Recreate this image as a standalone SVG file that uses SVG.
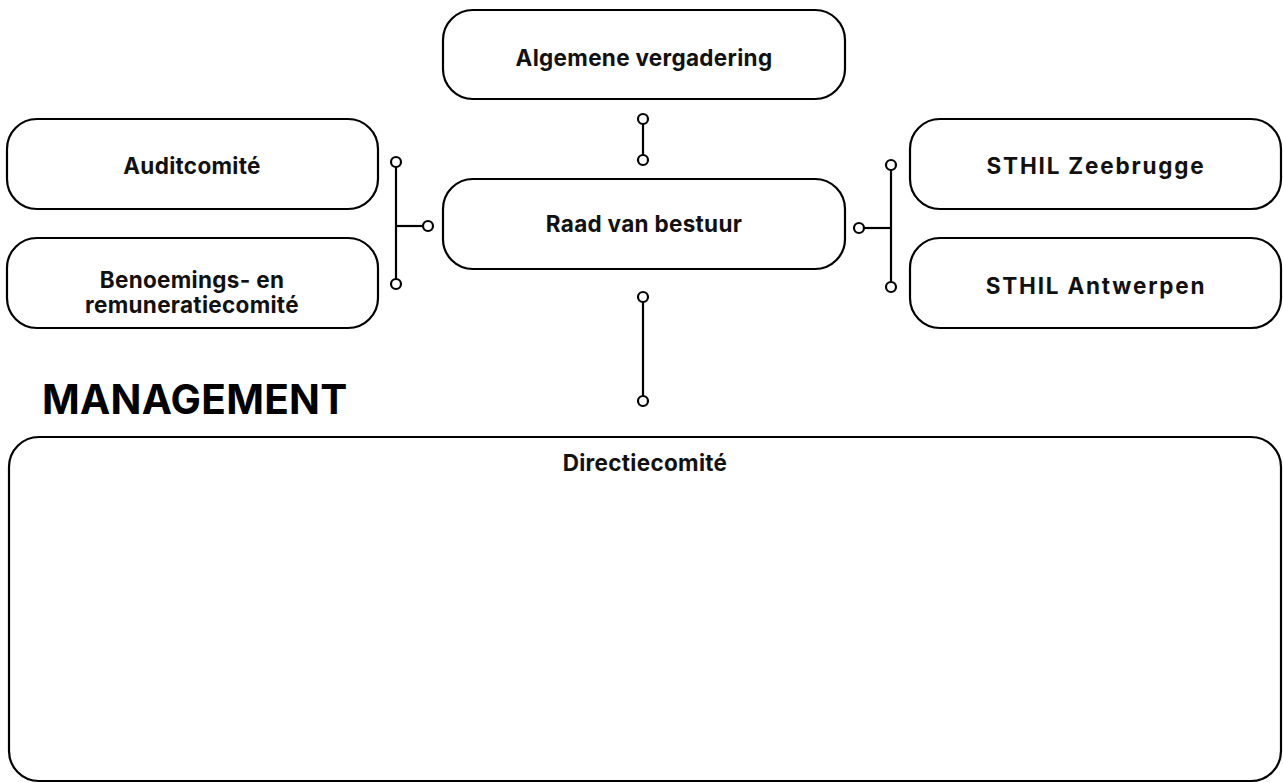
<svg xmlns="http://www.w3.org/2000/svg" width="1283" height="783" viewBox="0 0 1283 783">
<style>
.box{fill:#fff;stroke:#000;stroke-width:2.2}
.lbl{font-family:Inter,"Liberation Sans",sans-serif;font-weight:700;font-size:22.5px;letter-spacing:0.3px;fill:#111;text-anchor:middle}
.sp{letter-spacing:1.8px}
.ln{stroke:#000;stroke-width:2.2;fill:none}
.dot{fill:#fff;stroke:#000;stroke-width:2.2}
.title{font-family:Inter,"Liberation Sans",sans-serif;font-weight:700;font-size:40.5px;letter-spacing:0.3px;fill:#000}
</style>
<rect width="1283" height="783" fill="#fff"/>
<g id="algemene-vergadering"><rect class="box" x="443" y="10" width="402" height="89" rx="30"/><text class="lbl" x="644" y="66">Algemene vergadering</text></g>
<g id="raad-van-bestuur"><rect class="box" x="443" y="179" width="402" height="90" rx="30"/><text class="lbl" x="644" y="232">Raad van bestuur</text></g>
<g id="auditcomite"><rect class="box" x="7" y="119" width="371" height="90" rx="30"/><text class="lbl" x="192" y="174">Auditcomité</text></g>
<g id="benoemings"><rect class="box" x="7" y="238" width="371" height="90" rx="30"/><text class="lbl" x="192" y="288">Benoemings- en</text><text class="lbl" x="192" y="313">remuneratiecomité</text></g>
<g id="sthil-zeebrugge"><rect class="box" x="910" y="119" width="371" height="90" rx="30"/><text class="lbl sp" x="1096" y="174">STHIL Zeebrugge</text></g>
<g id="sthil-antwerpen"><rect class="box" x="910" y="238" width="371" height="90" rx="30"/><text class="lbl sp" x="1096" y="294">STHIL Antwerpen</text></g>
<text class="title" x="42" y="414">MANAGEMENT</text>
<g id="directiecomite"><rect class="box" x="9" y="437" width="1272" height="344" rx="30"/><text class="lbl" x="645" y="471">Directiecomité</text></g>
<g id="connectors">
<line class="ln" x1="643" y1="119" x2="643" y2="160"/>
<circle class="dot" cx="643" cy="119" r="5"/><circle class="dot" cx="643" cy="160" r="5"/>
<line class="ln" x1="643" y1="297" x2="643" y2="401"/>
<circle class="dot" cx="643" cy="297" r="5"/><circle class="dot" cx="643" cy="401" r="5"/>
<line class="ln" x1="396" y1="162" x2="396" y2="284"/>
<line class="ln" x1="396" y1="226" x2="428" y2="226"/>
<circle class="dot" cx="396" cy="162" r="5"/><circle class="dot" cx="396" cy="284" r="5"/><circle class="dot" cx="428" cy="226" r="5"/>
<line class="ln" x1="891" y1="165" x2="891" y2="287"/>
<line class="ln" x1="859" y1="228" x2="891" y2="228"/>
<circle class="dot" cx="891" cy="165" r="5"/><circle class="dot" cx="891" cy="287" r="5"/><circle class="dot" cx="859" cy="228" r="5"/>
</g>
</svg>
